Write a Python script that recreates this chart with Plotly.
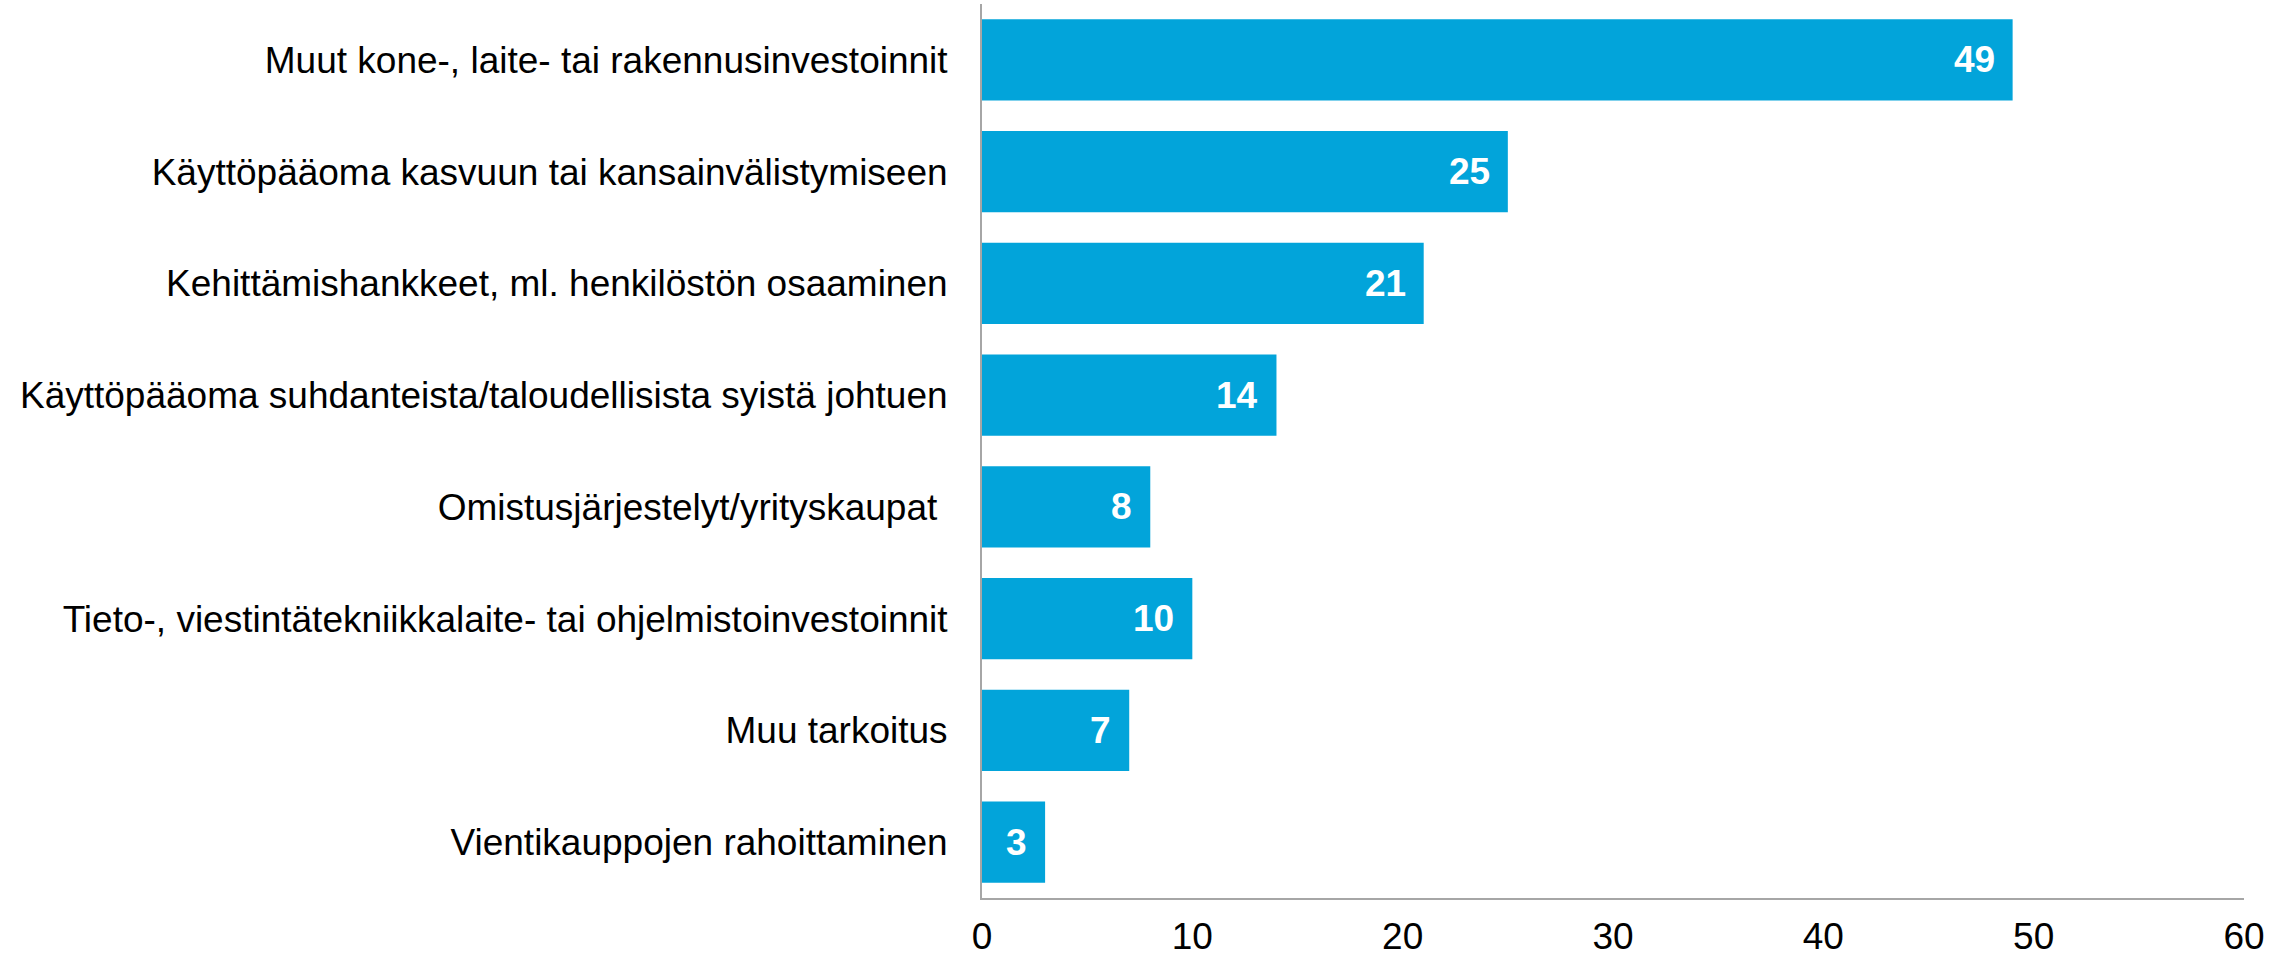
import plotly.graph_objects as go

categories = [
    "Muut kone-, laite- tai rakennusinvestoinnit",
    "Käyttöpääoma kasvuun tai kansainvälistymiseen",
    "Kehittämishankkeet, ml. henkilöstön osaaminen",
    "Käyttöpääoma suhdanteista/taloudellisista syistä johtuen",
    "Omistusjärjestelyt/yrityskaupat\u00a0",
    "Tieto-, viestintätekniikkalaite- tai ohjelmistoinvestoinnit",
    "Muu tarkoitus",
    "Vientikauppojen rahoittaminen",
]
values = [49, 25, 21, 14, 8, 10, 7, 3]
x_ticks = [0, 10, 20, 30, 40, 50, 60]

BAR = "#02A4DA"
AXIS = "#A6A6A6"
FONT = "Liberation Sans, Arial, sans-serif"

fig = go.Figure()
fig.add_trace(go.Bar(
    x=values, y=categories, orientation="h",
    marker=dict(color=BAR, line=dict(width=0)),
    hoverinfo="skip",
))

for c, v in zip(categories, values):
    fig.add_annotation(
        x=v, y=c, text=f"<b>{v}</b>", showarrow=False,
        xanchor="right", xshift=-16,
        font=dict(family=FONT, size=37, color="white"),
    )

fig.update_layout(
    width=2293, height=960,
    margin=dict(l=982, r=49, t=4, b=62),
    plot_bgcolor="white", paper_bgcolor="white",
    bargap=0.275,
    showlegend=False,
    font=dict(family=FONT, size=37, color="black"),
)
fig.update_yaxes(
    categoryorder="array", categoryarray=categories, autorange="reversed",
    showline=True, linecolor=AXIS, linewidth=2,
    showgrid=False, zeroline=False, ticks="",
    ticklabelstandoff=25, automargin=False,
    tickfont=dict(family=FONT, size=37, color="black"),
)
fig.update_xaxes(
    range=[0, 60], tickvals=x_ticks,
    showline=True, linecolor=AXIS, linewidth=2,
    showgrid=False, zeroline=False, ticks="",
    ticklabelstandoff=5, automargin=False,
    tickfont=dict(family=FONT, size=37, color="black"),
)

fig.write_html("out.html")
